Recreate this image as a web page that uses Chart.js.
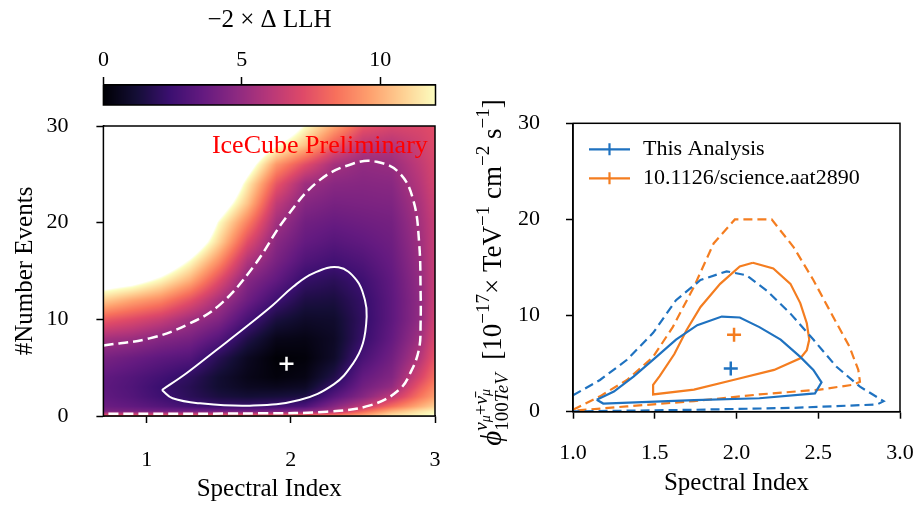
<!DOCTYPE html>
<html>
<head>
<meta charset="utf-8">
<script src="https://cdn.jsdelivr.net/npm/chart.js@4.4.1/dist/chart.umd.min.js"></script>
<style>
  html, body { margin: 0; padding: 0; background: #fff; }
  #wrap { position: relative; width: 919px; height: 505px; overflow: hidden; }
  canvas { position: absolute; }
</style>
</head>
<body>
<div id="wrap">
  <canvas id="cbar" width="460" height="110" style="left:0px;top:0px"></canvas>
  <canvas id="llh" width="460" height="395" style="left:0px;top:110px"></canvas>
  <canvas id="flux" width="459" height="425" style="left:460px;top:80px"></canvas>
</div>
<script>
const FONT = "'Liberation Serif', 'DejaVu Serif', serif";
const BLUE = '#1f72c0';
const ORANGE = '#f47d20';

// colour bar
const cbarTicks = [0, 5, 10];
const cbarMax = 12;

// left panel: -2 dLLH (rows = number of events, cols = spectral index)
const llhX = [0.7, 0.9, 1.1, 1.3, 1.5, 1.7, 1.9, 2.1, 2.3, 2.5, 2.7, 2.9, 3.0];
const llhY = [0, 0.5, 1, 2, 3, 4, 6, 8, 10, 12, 14, 16, 18, 20, 22, 24, 26, 28, 30];
const llhGrid = [
  [8.0, 8.0, 8.2, 8.3, 8.5, 8.5, 8.6, 8.8, 9.2, 10.0, 11.5, 12.0, 12.3],
  [4.3, 4.2, 4.0, 4.0, 4.0, 4.0, 4.2, 4.6, 5.6, 8.0, 10.0, 11.3, 11.8],
  [3.8, 3.5, 3.1, 2.6, 2.3, 2.3, 2.5, 2.9, 4.6, 6.3, 8.3, 10.0, 10.8],
  [3.5, 3.1, 2.5, 1.9, 1.4, 1.2, 1.3, 1.5, 3.2, 4.6, 6.2, 8.6, 9.6],
  [3.4, 3.0, 2.35, 1.8, 1.1, 0.7, 0.6, 0.8, 2.3, 4.0, 5.0, 7.8, 9.0],
  [3.5, 3.1, 2.6, 2.0, 1.1, 0.5, 0.2, 0.4, 1.6, 3.6, 4.5, 7.0, 8.4],
  [4.2, 3.8, 3.4, 3.1, 1.8, 0.7, 0.05, 0.15, 0.9, 2.8, 4.0, 6.0, 7.6],
  [5.5, 5.2, 4.6, 4.2, 3.2, 1.6, 0.5, 0.4, 0.8, 2.25, 3.6, 5.4, 7.1],
  [7.8, 7.2, 6.5, 5.4, 4.5, 2.8, 1.4, 0.9, 1.0, 2.1, 3.4, 5.0, 6.8],
  [10.8, 9.8, 9.0, 7.5, 5.6, 3.9, 2.5, 1.5, 1.4, 2.2, 3.4, 4.95, 6.6],
  [13.8, 13.2, 11.8, 10.0, 7.3, 4.6, 3.5, 2.2, 1.9, 2.5, 3.5, 5.05, 6.5],
  [16.5, 16.0, 14.5, 12.1, 9.2, 5.8, 4.2, 3.0, 2.6, 3.0, 3.7, 5.2, 6.5],
  [19.0, 18.5, 17.0, 14.5, 11.0, 7.3, 4.7, 3.6, 3.2, 3.5, 3.9, 5.35, 6.5],
  [21.0, 20.5, 19.0, 16.5, 12.1, 8.8, 5.4, 4.0, 3.7, 3.9, 4.1, 5.5, 6.5],
  [23.0, 22.5, 21.0, 18.5, 14.0, 10.5, 6.3, 4.6, 4.2, 4.3, 4.4, 5.7, 6.7],
  [25.0, 24.5, 23.0, 20.5, 16.0, 11.6, 7.6, 5.3, 4.7, 4.6, 4.7, 6.0, 6.9],
  [27.0, 26.5, 25.0, 22.5, 18.0, 13.5, 9.4, 7.3, 5.5, 4.95, 5.1, 6.3, 7.0],
  [29.0, 28.5, 27.0, 24.5, 20.0, 15.5, 12.4, 10.4, 7.8, 6.1, 5.9, 6.7, 7.2],
  [31.0, 30.5, 29.0, 26.5, 22.0, 17.5, 15.0, 12.1, 9.8, 7.6, 7.0, 7.1, 7.3]
];
const llhXTicks = [1, 2, 3];
const llhYTicks = [0, 10, 20, 30];
const sigma1X = [1.106, 1.276, 1.484, 1.69, 1.87, 2.016, 2.155, 2.33, 2.456, 2.514, 2.526, 2.50, 2.43, 2.30, 2.06, 1.715, 1.37, 1.18, 1.106];
const sigma1Y = [2.69, 4.42, 6.83, 9.23, 11.4, 13.37, 14.76, 15.38, 14.06, 12.0, 10.27, 7.52, 5.4, 3.3, 1.65, 1.07, 1.31, 1.83, 2.69];
const sigma2X = [0.70, 1.02, 1.276, 1.507, 1.74, 1.97, 2.20, 2.43, 2.595, 2.756, 2.85, 2.89, 2.90, 2.90, 2.89, 2.84, 2.75, 2.55, 2.25, 1.80, 0.70];
const sigma2Y = [7.3, 8.03, 9.41, 11.5, 15.44, 20.6, 24.4, 26.1, 26.3, 25.1, 22.3, 17.9, 13.0, 9.5, 7.0, 4.8, 2.7, 1.1, 0.45, 0.28, 0.22];
const bestFitLLH = [1.97, 5.4];

// right panel
const fluxXTicks = [1.0, 1.5, 2.0, 2.5, 3.0];
const fluxYTicks = [0, 10, 20, 30];
const blue68X = [1.145, 1.25, 1.37, 1.51, 1.63, 1.76, 1.91, 2.02, 2.14, 2.27, 2.39, 2.47, 2.52, 2.48, 2.14, 1.74, 1.185, 1.145];
const blue68Y = [1.25, 2.1, 3.65, 5.7, 7.5, 9.0, 9.9, 9.8, 8.8, 7.5, 5.7, 4.35, 3.05, 1.9, 1.4, 1.2, 0.85, 1.25];
const blue90X = [1.0, 1.165, 1.33, 1.49, 1.63, 1.78, 1.94, 2.06, 2.185, 2.33, 2.47, 2.61, 2.755, 2.90, 2.86, 2.35, 1.74, 1.0];
const blue90Y = [1.7, 3.3, 5.4, 8.2, 11.6, 13.7, 14.6, 14.2, 12.6, 10.2, 7.5, 4.7, 2.6, 1.1, 0.75, 0.4, 0.2, 0.03];
const orange68X = [2.10, 2.02, 1.90, 1.78, 1.695, 1.62, 1.53, 1.49, 1.49, 1.74, 1.98, 2.23, 2.39, 2.43, 2.445, 2.43, 2.39, 2.33, 2.225, 2.10];
const orange68Y = [15.5, 15.1, 13.3, 10.9, 8.5, 6.0, 3.7, 2.8, 1.8, 2.3, 3.3, 4.35, 5.55, 6.4, 7.5, 9.2, 11.3, 13.3, 14.9, 15.5];
const orange90X = [1.0, 1.165, 1.33, 1.49, 1.61, 1.74, 1.86, 1.99, 2.215, 2.35, 2.47, 2.59, 2.69, 2.745, 2.755, 2.71, 2.51, 2.14, 1.74, 1.33, 1.0];
const orange90Y = [0.2, 1.6, 3.3, 5.7, 8.8, 13.0, 17.5, 20.0, 20.0, 17.1, 13.7, 9.9, 6.8, 4.35, 3.1, 2.8, 2.3, 1.8, 1.1, 0.55, 0.1];
const bestFitThis = [1.965, 4.5];
const bestFitScience = [1.985, 8.0];
const legendLabels = ['This Analysis', '10.1126/science.aat2890'];

const pts = (xs, ys) => xs.map((x, i) => ({ x: x, y: ys[i] }));

// magma colour map
const MAGMA = ['#000004', '#140e36', '#3b0f70', '#641a80', '#8c2981', '#b73779',
  '#de4968', '#f7705c', '#fe9f6d', '#fecf92', '#fcfdbf']
  .map(h => [parseInt(h.slice(1, 3), 16), parseInt(h.slice(3, 5), 16), parseInt(h.slice(5, 7), 16)]);

function magma(v) {
  if (v >= cbarMax) {
    const t = Math.min(1, (v - cbarMax) / 0.4);
    return MAGMA[10].map(k => k + (255 - k) * t);
  }
  const f = Math.max(0, v / cbarMax) * 10;
  const i = Math.min(9, Math.floor(f));
  const t = f - i;
  return [0, 1, 2].map(k => MAGMA[i][k] + (MAGMA[i + 1][k] - MAGMA[i][k]) * t);
}

function seg(arr, v) {
  let i = 0;
  while (i < arr.length - 2 && v > arr[i + 1]) i++;
  const t = Math.min(1, Math.max(0, (v - arr[i]) / (arr[i + 1] - arr[i])));
  return [i, t];
}

function llhAt(x, y) {
  const [i, tx] = seg(llhX, x);
  const [j, ty] = seg(llhY, y);
  const a = llhGrid[j][i], b = llhGrid[j][i + 1], c = llhGrid[j + 1][i], d = llhGrid[j + 1][i + 1];
  return (a * (1 - tx) + b * tx) * (1 - ty) + (c * (1 - tx) + d * tx) * ty;
}

const framePlugin = {
  id: 'frame',
  afterDatasetsDraw(chart) {
    const { ctx, chartArea: a } = chart;
    ctx.save();
    ctx.strokeStyle = '#000';
    ctx.lineWidth = 1.5;
    ctx.strokeRect(a.left, a.top, a.right - a.left, a.bottom - a.top);
    ctx.restore();
  }
};

const heatmapPlugin = {
  id: 'heatmap',
  beforeDatasetsDraw(chart) {
    const { ctx, chartArea: a, scales } = chart;
    const l = Math.round(a.left), t = Math.round(a.top);
    const w = Math.round(a.right) - l, h = Math.round(a.bottom) - t;
    const img = ctx.createImageData(w, h);
    for (let r = 0; r < h; r++) {
      const yv = scales.y.getValueForPixel(t + r + 0.5);
      for (let c = 0; c < w; c++) {
        const col = magma(llhAt(scales.x.getValueForPixel(l + c + 0.5), yv));
        const k = (r * w + c) * 4;
        img.data[k] = col[0]; img.data[k + 1] = col[1]; img.data[k + 2] = col[2]; img.data[k + 3] = 255;
      }
    }
    ctx.putImageData(img, l, t);
  },
  afterDatasetsDraw(chart) {
    const { ctx, scales } = chart;
    ctx.save();
    ctx.fillStyle = '#ff0000';
    ctx.font = '26px ' + FONT;
    ctx.textAlign = 'right';
    ctx.textBaseline = 'alphabetic';
    ctx.fillText('IceCube Preliminary', scales.x.getPixelForValue(2.95), scales.y.getPixelForValue(27.2));
    ctx.restore();
  }
};

const gradientPlugin = {
  id: 'gradient',
  beforeDatasetsDraw(chart) {
    const { ctx, chartArea: a, scales } = chart;
    for (let px = Math.round(a.left); px < Math.round(a.right); px++) {
      const c = magma(scales.x.getValueForPixel(px + 0.5));
      ctx.fillStyle = 'rgb(' + c.map(Math.round).join(',') + ')';
      ctx.fillRect(px, a.top, 1, a.bottom - a.top);
    }
  }
};

const fluxLabelPlugin = {
  id: 'fluxLabel',
  afterDraw(chart) {
    const { ctx, chartArea: a } = chart;
    const B = 27, S = 19, T = 14;
    const groups = [
      { t: 'ϕ', s: B + 2, dy: 0, it: true },
      { stack: [
        [{ t: 'ν', s: S, dy: -14, it: true }, { t: 'μ', s: T, dy: -11, it: true }, { t: '+', s: S, dy: -14 },
         { t: 'ν̄', s: S, dy: -14, it: true }, { t: 'μ', s: T, dy: -11, it: true }],
        [{ t: '100', s: S, dy: 7 }, { t: 'TeV', s: S, dy: 7, it: true }]
      ] },
      { t: '  [10', s: B, dy: 0 },
      { t: '−17', s: S, dy: -12 },
      { t: '× TeV', s: B, dy: 0 },
      { t: '−1', s: S, dy: -12 },
      { t: ' cm', s: B, dy: 0 },
      { t: '−2', s: S, dy: -12 },
      { t: ' s', s: B, dy: 0 },
      { t: '−1', s: S, dy: -12 },
      { t: ']', s: B, dy: 0 }
    ];
    const fontOf = p => (p.it ? 'italic ' : '') + p.s + 'px ' + FONT;
    const widthOf = list => list.reduce((acc, p) => { ctx.font = fontOf(p); return acc + ctx.measureText(p.t).width; }, 0);
    ctx.save();
    let total = 0;
    groups.forEach(g => { total += g.stack ? Math.max(...g.stack.map(widthOf)) : widthOf([g]); });
    ctx.translate(41, (a.top + a.bottom) / 2 + 5);
    ctx.rotate(-Math.PI / 2);
    ctx.fillStyle = '#000';
    ctx.textBaseline = 'alphabetic';
    ctx.textAlign = 'left';
    let x = -total / 2;
    const drawList = (list, x0) => {
      let xx = x0;
      list.forEach(p => { ctx.font = fontOf(p); ctx.fillText(p.t, xx, p.dy); xx += ctx.measureText(p.t).width; });
    };
    groups.forEach(g => {
      if (g.stack) {
        g.stack.forEach(list => drawList(list, x));
        x += Math.max(...g.stack.map(widthOf));
      } else {
        drawList([g], x);
        x += widthOf([g]);
      }
    });
    ctx.restore();
  }
};

const legendPlugin = {
  id: 'insideLegend',
  afterDraw(chart) {
    const { ctx, chartArea: a } = chart;
    const items = chart.data.datasets.filter(d => d.legend);
    ctx.save();
    items.forEach((d, i) => {
      const y = a.top + 26 + i * 29;
      const x0 = a.left + 16;
      ctx.strokeStyle = d.borderColor;
      ctx.lineWidth = 2.2;
      ctx.beginPath();
      ctx.moveTo(x0, y); ctx.lineTo(x0 + 41, y);
      ctx.moveTo(x0 + 20.5, y - 6); ctx.lineTo(x0 + 20.5, y + 6);
      ctx.stroke();
      ctx.fillStyle = '#000';
      ctx.font = '22px ' + FONT;
      ctx.textBaseline = 'middle';
      ctx.fillText(d.label, x0 + 54, y);
    });
    ctx.restore();
  }
};

function axis(min, max, ticks, o) {
  return {
    type: 'linear', min: min, max: max, position: o.position,
    afterBuildTicks: s => { s.ticks = ticks.map(v => ({ value: v })); },
    afterFit: s => {
      if (o.width !== undefined) s.width = o.width;
      if (o.height !== undefined) s.height = o.height;
      s.paddingTop = 0; s.paddingBottom = 0; s.paddingLeft = 0; s.paddingRight = 0;
    },
    grid: { drawOnChartArea: false, drawTicks: true, tickLength: o.tickLength || 7, tickWidth: 1.5, tickColor: '#000' },
    border: { display: true, color: '#000', width: 1.5 },
    ticks: {
      color: '#000', autoSkip: false, maxRotation: 0,
      font: { family: FONT, size: o.tickSize || 22 }, padding: o.pad,
      callback: o.fmt || (v => String(v))
    },
    title: o.title ? {
      display: true, text: o.title, color: '#000',
      font: { family: FONT, size: o.titleSize || 25 }, padding: o.titlePad
    } : { display: false }
  };
}

const common = {
  responsive: false,
  animation: false,
  devicePixelRatio: 1,
  events: [],
  plugins: { legend: { display: false }, tooltip: { enabled: false } }
};

new Chart(document.getElementById('cbar'), {
  type: 'scatter',
  data: { datasets: [{ data: [] }] },
  options: Object.assign({}, common, {
    layout: { padding: { left: 103.4, right: 24.5, top: 0, bottom: 5 } },
    scales: {
      x: axis(0, cbarMax, cbarTicks, { position: 'top', height: 85, tickLength: 8, tickSize: 22, pad: 4,
        title: '−2 × Δ LLH', titleSize: 25, titlePad: { top: 5, bottom: 0 } }),
      y: { display: false, min: 0, max: 1 }
    }
  }),
  plugins: [gradientPlugin, framePlugin]
});

new Chart(document.getElementById('llh'), {
  type: 'scatter',
  data: {
    datasets: [
      { data: pts(sigma2X, sigma2Y), showLine: true, borderColor: '#fff', borderWidth: 2.5, borderDash: [10, 5], pointRadius: 0, tension: 0.4 },
      { data: pts(sigma1X, sigma1Y), showLine: true, borderColor: '#fff', borderWidth: 2, pointRadius: 0, tension: 0.4 },
      { data: [{ x: bestFitLLH[0], y: bestFitLLH[1] }], pointStyle: 'cross', pointRadius: 7, borderColor: '#fff', borderWidth: 2.5 }
    ]
  },
  options: Object.assign({}, common, {
    layout: { padding: { left: 0, right: 25, top: 16, bottom: 0 } },
    scales: {
      x: axis(0.7, 3.0, llhXTicks, { position: 'bottom', height: 89, pad: 24,
        title: 'Spectral Index', titlePad: { top: 0, bottom: 1 } }),
      y: axis(0, 30, llhYTicks, { position: 'left', width: 103.4, pad: 28,
        title: '#Number Events', titlePad: { top: 10, bottom: 0 } })
    }
  }),
  plugins: [heatmapPlugin, framePlugin]
});

new Chart(document.getElementById('flux'), {
  type: 'scatter',
  data: {
    datasets: [
      { data: pts(blue90X, blue90Y), showLine: true, borderColor: BLUE, borderWidth: 2.2, borderDash: [9, 5], pointRadius: 0 },
      { data: pts(blue68X, blue68Y), showLine: true, borderColor: BLUE, borderWidth: 2.2, pointRadius: 0 },
      { data: pts(orange90X, orange90Y), showLine: true, borderColor: ORANGE, borderWidth: 2.2, borderDash: [9, 5], pointRadius: 0 },
      { data: pts(orange68X, orange68Y), showLine: true, borderColor: ORANGE, borderWidth: 2.2, pointRadius: 0 },
      { label: legendLabels[0], legend: true, data: [{ x: bestFitThis[0], y: bestFitThis[1] }], pointStyle: 'cross', pointRadius: 7, borderColor: BLUE, borderWidth: 2.5 },
      { label: legendLabels[1], legend: true, data: [{ x: bestFitScience[0], y: bestFitScience[1] }], pointStyle: 'cross', pointRadius: 7, borderColor: ORANGE, borderWidth: 2.5 }
    ]
  },
  options: Object.assign({}, common, {
    layout: { padding: { left: 0, right: 19, top: 43.3, bottom: 0 } },
    scales: {
      x: axis(1.0, 3.0, fluxXTicks, { position: 'bottom', height: 93.3, pad: 21, fmt: v => v.toFixed(1),
        title: 'Spectral Index', titlePad: { top: 0, bottom: 7 } }),
      y: axis(0, 30, fluxYTicks, { position: 'left', width: 113, pad: 26 })
    }
  }),
  plugins: [framePlugin, legendPlugin, fluxLabelPlugin]
});
</script>
</body>
</html>
